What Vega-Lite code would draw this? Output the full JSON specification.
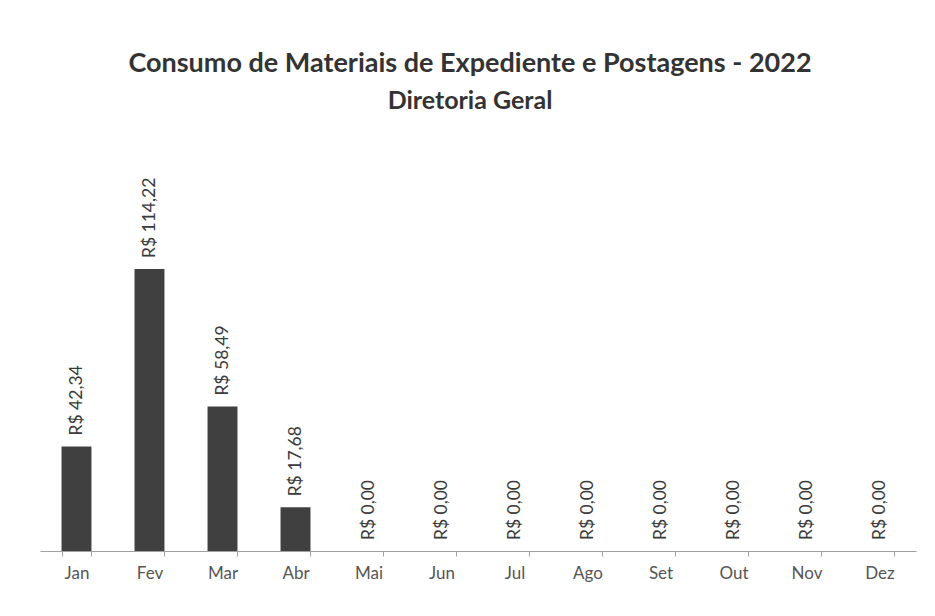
{
  "$schema": "https://vega.github.io/schema/vega-lite/v6.json",
  "width": 876,
  "height": 395,
  "autosize": {"type": "none"},
  "padding": {"left": 40, "top": 156, "right": 19, "bottom": 65},
  "background": "white",
  "title": {
    "text": "Consumo de Materiais de Expediente e Postagens - 2022",
    "subtitle": "Diretoria Geral",
    "anchor": "middle",
    "dx": -8,
    "offset": 41,
    "font": "Lato",
    "fontSize": 27,
    "fontWeight": "bold",
    "color": "#333333",
    "subtitleFont": "Lato",
    "subtitleFontSize": 25,
    "subtitleFontWeight": "bold",
    "subtitleColor": "#333333",
    "subtitlePadding": 11
  },
  "data": {
    "values": [
      {"mes": "Jan", "valor": 42.34},
      {"mes": "Fev", "valor": 114.22},
      {"mes": "Mar", "valor": 58.49},
      {"mes": "Abr", "valor": 17.68},
      {"mes": "Mai", "valor": 0},
      {"mes": "Jun", "valor": 0},
      {"mes": "Jul", "valor": 0},
      {"mes": "Ago", "valor": 0},
      {"mes": "Set", "valor": 0},
      {"mes": "Out", "valor": 0},
      {"mes": "Nov", "valor": 0},
      {"mes": "Dez", "valor": 0}
    ]
  },
  "encoding": {
    "x": {
      "field": "mes",
      "type": "nominal",
      "sort": null,
      "scale": {"paddingInner": 0.59, "paddingOuter": 0.295},
      "axis": {
        "title": null,
        "labelAngle": 0,
        "labelFont": "Lato",
        "labelFontSize": 17,
        "labelColor": "#555555",
        "labelPadding": 9,
        "domainColor": "#a0a0a0",
        "tickColor": "#a0a0a0",
        "tickSize": 5,
        "tickBand": "extent"
      }
    },
    "y": {
      "field": "valor",
      "type": "quantitative",
      "scale": {"domain": [0, 160], "nice": false},
      "axis": null
    }
  },
  "layer": [
    {"mark": {"type": "bar", "color": "#404040"}},
    {
      "mark": {
        "type": "text",
        "angle": 270,
        "align": "left",
        "baseline": "middle",
        "dx": 11,
        "font": "Lato",
        "fontSize": 17.5,
        "color": "#3a3a3a"
      },
      "encoding": {
        "text": {"field": "valor", "type": "quantitative", "format": "$,.2f"}
      }
    }
  ],
  "config": {
    "view": {"stroke": null},
    "locale": {
      "number": {
        "decimal": ",",
        "thousands": ".",
        "grouping": [3],
        "currency": ["R$ ", ""]
      }
    }
  }
}
